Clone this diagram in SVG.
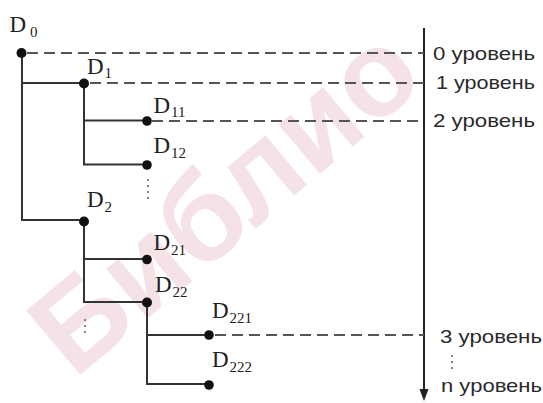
<svg xmlns="http://www.w3.org/2000/svg" width="543" height="403" viewBox="0 0 543 403">
  <style>
    .solid { fill: none; stroke: #333; stroke-width: 2; }
    .dash { fill: none; stroke: #555; stroke-width: 2; stroke-dasharray: 11 6; }
    .dot { fill: #111; }
    .d { font-family: "Liberation Serif", "Times New Roman", serif; font-size: 23px; fill: #222; }
    .sub { font-family: "Liberation Serif", "Times New Roman", serif; font-size: 15px; fill: #222; }
    .lvl { font-family: "Liberation Sans", Arial, sans-serif; font-size: 19px; fill: #2a2a2a; }
    .ell { fill: #666; }
    .wm { font-family: "Liberation Sans", Arial, sans-serif; font-weight: bold; font-size: 122px; fill: #f4e2e6; }
  </style>
  <rect width="543" height="403" fill="#fff"/>
  <g id="watermark">
    <text class="wm" x="74" y="380" transform="rotate(-40 74 380)">Библио</text>
  </g>

  <g id="connectors">
    <!-- level axis -->
    <line x1="424" y1="28" x2="424" y2="390" stroke="#222" stroke-width="2"/>
    <path d="M419.5,389 L428.5,389 L424,401 Z" fill="#222"/>
    <!-- dashed level lines -->
    <line class="dash" x1="27" y1="53" x2="424" y2="53"/>
    <line class="dash" x1="90" y1="83" x2="424" y2="83"/>
    <line class="dash" x1="152" y1="121" x2="424" y2="121"/>
    <line class="dash" x1="215" y1="335" x2="424" y2="335"/>
    <!-- tree -->
    <path class="solid" d="M22,53 V220 H84"/>
    <path class="solid" d="M22,83 H84"/>
    <path class="solid" d="M84,83 V164.5 H147"/>
    <path class="solid" d="M84,120.5 H147"/>
    <path class="solid" d="M84,221 V302 H147"/>
    <path class="solid" d="M84,259 H147"/>
    <path class="solid" d="M147,303 V384 H209"/>
    <path class="solid" d="M147,335 H209"/>
    <!-- continuation dots -->
    <g class="ell">
      <circle cx="148" cy="180" r="1.1"/><circle cx="148" cy="186" r="1.1"/><circle cx="148" cy="192" r="1.1"/><circle cx="148" cy="198" r="1.1"/>
      <circle cx="85" cy="320" r="1.1"/><circle cx="85" cy="326" r="1.1"/><circle cx="85" cy="332" r="1.1"/>
      <circle cx="452" cy="356" r="1.1"/><circle cx="452" cy="362" r="1.1"/><circle cx="452" cy="368" r="1.1"/>
    </g>
  </g>

  <g id="D0"><circle class="dot" cx="21.5" cy="53" r="5"/><text class="d" x="9.5" y="32">D</text><text class="sub" x="30" y="37">0</text></g>
  <g id="D1"><circle class="dot" cx="84" cy="83.5" r="5"/><text class="d" x="87" y="74">D</text><text class="sub" x="104.5" y="78">1</text></g>
  <g id="D11"><circle class="dot" cx="147" cy="121" r="4.8"/><text class="d" x="153.5" y="113">D</text><text class="sub" x="171" y="117">11</text></g>
  <g id="D12"><circle class="dot" cx="147" cy="165" r="4.8"/><text class="d" x="153.5" y="153">D</text><text class="sub" x="171" y="158">12</text></g>
  <g id="D2"><circle class="dot" cx="84" cy="221.5" r="5"/><text class="d" x="87" y="207">D</text><text class="sub" x="104.5" y="212">2</text></g>
  <g id="D21"><circle class="dot" cx="147" cy="259.5" r="4.8"/><text class="d" x="153.5" y="250">D</text><text class="sub" x="171" y="255">21</text></g>
  <g id="D22"><circle class="dot" cx="147" cy="302.5" r="5"/><text class="d" x="155" y="292">D</text><text class="sub" x="172.5" y="297">22</text></g>
  <g id="D221"><circle class="dot" cx="209" cy="335" r="4.8"/><text class="d" x="212" y="318">D</text><text class="sub" x="229.5" y="323">221</text></g>
  <g id="D222"><circle class="dot" cx="209" cy="385" r="4.8"/><text class="d" x="212" y="367">D</text><text class="sub" x="229.5" y="372">222</text></g>

  <g id="levels">
    <text class="lvl" x="433" y="60" textLength="102" lengthAdjust="spacingAndGlyphs">0 уровень</text>
    <text class="lvl" x="436" y="89" textLength="99" lengthAdjust="spacingAndGlyphs">1 уровень</text>
    <text class="lvl" x="433" y="127" textLength="102" lengthAdjust="spacingAndGlyphs">2 уровень</text>
    <text class="lvl" x="440" y="343" textLength="102" lengthAdjust="spacingAndGlyphs">3 уровень</text>
    <text class="lvl" x="441" y="392" textLength="101" lengthAdjust="spacingAndGlyphs">n уровень</text>
  </g>
</svg>
